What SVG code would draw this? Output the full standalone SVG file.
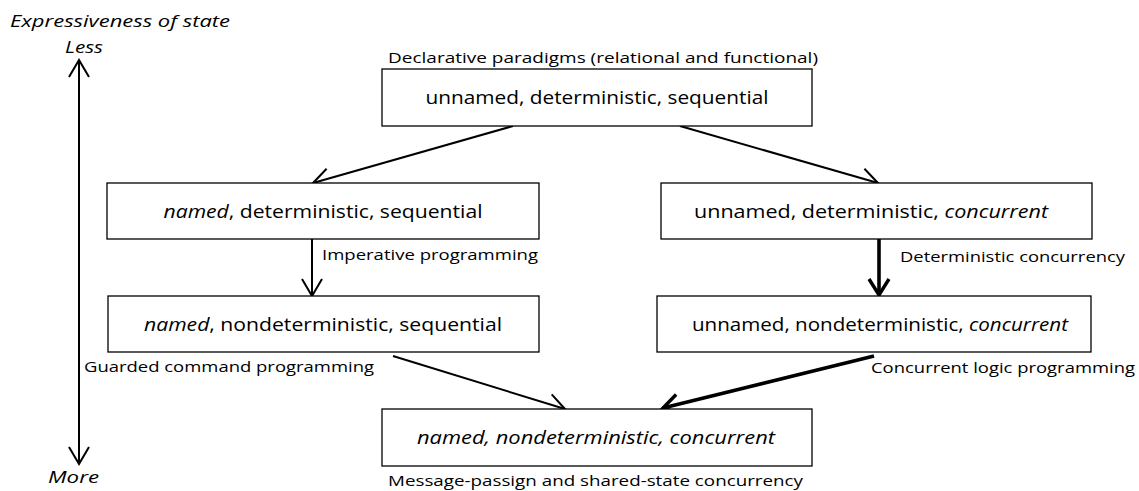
<svg xmlns="http://www.w3.org/2000/svg" width="1139" height="491" viewBox="0 0 1139 491">
  <style>
    text { font-family: "Open Sans", "Noto Sans", "Liberation Sans", sans-serif; fill: #000; }
    .box rect { fill: #fff; stroke: #000; stroke-width: 1.3; }
    .box text { font-size: 18px; text-anchor: middle; }
    .lbl { font-size: 15px; }
    .it { font-style: italic; }
    .axis-lbl { font-size: 17px; font-style: italic; }
    .edge { fill: none; stroke: #000; stroke-width: 2; }
    .edge.thick { stroke-width: 3.6; }
  </style>
  <defs>
    <marker id="arrow" markerUnits="userSpaceOnUse" viewBox="-22 -14 26 28" markerWidth="26" markerHeight="28" refX="0" refY="0" orient="auto-start-reverse">
      <path d="M-17,-10 L0,0 L-17,10" fill="none" stroke="#000" stroke-width="2"/>
    </marker>
    <marker id="arrow-thick" markerUnits="userSpaceOnUse" viewBox="-22 -14 26 28" markerWidth="26" markerHeight="28" refX="0" refY="0" orient="auto">
      <path d="M-16,-10 L0,0 L-16,10" fill="none" stroke="#000" stroke-width="3.4"/>
    </marker>
  </defs>

  <rect width="1139" height="491" fill="#fff"/>

  <!-- vertical axis: expressiveness of state -->
  <g id="axis">
    <text class="axis-lbl" x="10" y="27" textLength="220" lengthAdjust="spacingAndGlyphs">Expressiveness of state</text>
    <text class="axis-lbl" x="65" y="53" textLength="38" lengthAdjust="spacingAndGlyphs">Less</text>
    <text class="axis-lbl" x="48" y="483" textLength="51" lengthAdjust="spacingAndGlyphs">More</text>
    <line class="edge" x1="79" y1="60" x2="79" y2="464" marker-start="url(#arrow)" marker-end="url(#arrow)"/>
  </g>

  <!-- connectors -->
  <g id="connectors">
    <line class="edge" x1="513" y1="126" x2="313" y2="183" marker-end="url(#arrow)"/>
    <line class="edge" x1="680" y1="126" x2="878" y2="183" marker-end="url(#arrow)"/>
    <line class="edge" x1="312" y1="239" x2="312" y2="296" marker-end="url(#arrow)"/>
    <line class="edge thick" x1="879" y1="239" x2="879" y2="295" marker-end="url(#arrow-thick)"/>
    <line class="edge" x1="393" y1="356" x2="565" y2="409" marker-end="url(#arrow)"/>
    <line class="edge thick" x1="874" y1="356" x2="663" y2="408" marker-end="url(#arrow-thick)"/>
    <text class="lbl" x="322" y="260" textLength="216" lengthAdjust="spacingAndGlyphs">Imperative programming</text>
    <text class="lbl" x="900" y="262" textLength="225" lengthAdjust="spacingAndGlyphs">Deterministic concurrency</text>
    <text class="lbl" x="84" y="372" textLength="290" lengthAdjust="spacingAndGlyphs">Guarded command programming</text>
    <text class="lbl" x="871" y="373" textLength="264" lengthAdjust="spacingAndGlyphs">Concurrent logic programming</text>
  </g>

  <!-- declarative paradigms -->
  <g id="node-declarative" class="box">
    <text class="lbl" x="388" y="63" style="text-anchor:start;font-size:15px" textLength="430" lengthAdjust="spacingAndGlyphs">Declarative paradigms (relational and functional)</text>
    <rect x="382" y="69" width="430" height="57"/>
    <text x="597" y="104" textLength="343" lengthAdjust="spacingAndGlyphs">unnamed, deterministic, sequential</text>
  </g>

  <g id="node-imperative" class="box">
    <rect x="107" y="183" width="432" height="56"/>
    <text x="323" y="218" textLength="319" lengthAdjust="spacingAndGlyphs"><tspan class="it">named</tspan>, deterministic, sequential</text>
  </g>

  <g id="node-det-concurrent" class="box">
    <rect x="661" y="183" width="431" height="56"/>
    <text x="871" y="218" textLength="354" lengthAdjust="spacingAndGlyphs">unnamed, deterministic, <tspan class="it">concurrent</tspan></text>
  </g>

  <g id="node-guarded" class="box">
    <rect x="108" y="296" width="431" height="56"/>
    <text x="323" y="331" textLength="358" lengthAdjust="spacingAndGlyphs"><tspan class="it">named</tspan>, nondeterministic, sequential</text>
  </g>

  <g id="node-logic-concurrent" class="box">
    <rect x="657" y="296" width="434" height="56"/>
    <text x="880" y="331" textLength="376" lengthAdjust="spacingAndGlyphs">unnamed, nondeterministic, <tspan class="it">concurrent</tspan></text>
  </g>

  <g id="node-message-passing" class="box">
    <rect x="382" y="409" width="430" height="57"/>
    <text class="it" x="596" y="444" textLength="358" lengthAdjust="spacingAndGlyphs">named, nondeterministic, concurrent</text>
    <text class="lbl" x="388" y="486" style="text-anchor:start;font-size:15px" textLength="415" lengthAdjust="spacingAndGlyphs">Message-passign and shared-state concurrency</text>
  </g>
</svg>
